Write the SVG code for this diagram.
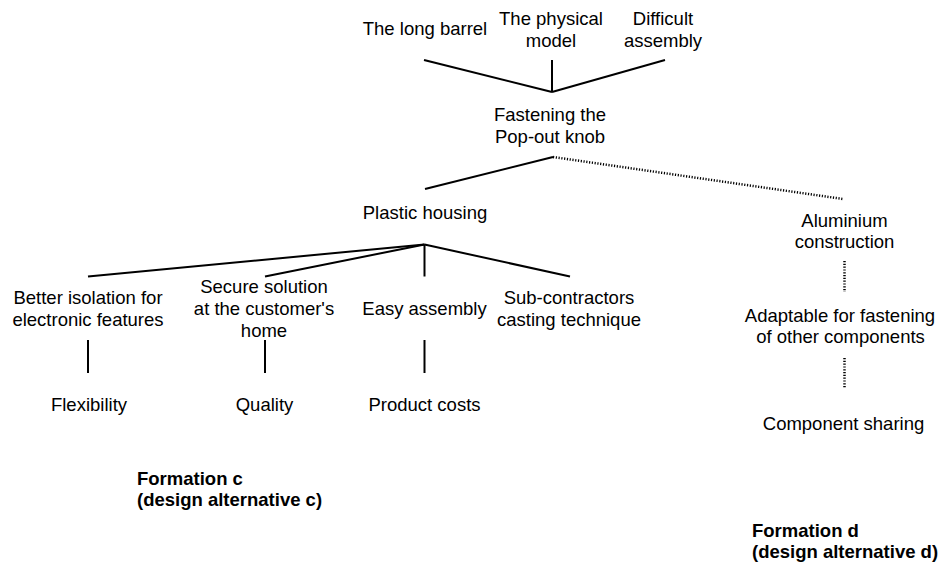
<svg xmlns="http://www.w3.org/2000/svg" width="941" height="565" viewBox="0 0 941 565">
  <style>
    text { font-family: "Liberation Sans", Arial, sans-serif; font-size: 18.5px; fill: #000; text-anchor: middle; }
    .caption { font-weight: bold; text-anchor: start; }
    .solid { stroke: #000; stroke-width: 2; fill: none; }
    .dotted { stroke: #000; stroke-width: 2.5; fill: none; stroke-dasharray: 1.2 1.6; }
  </style>
  <rect width="941" height="565" fill="#fff"/>

  <g id="connectors">
    <!-- causes into the main problem -->
    <line class="solid" x1="424" y1="60" x2="552" y2="92"/>
    <line class="solid" x1="552" y1="60" x2="552" y2="92"/>
    <line class="solid" x1="665" y1="60" x2="552" y2="92"/>
    <!-- main problem to alternatives -->
    <line class="solid" x1="553" y1="157" x2="425" y2="189"/>
    <line class="dotted" x1="553" y1="157" x2="843" y2="199"/>
    <!-- plastic housing fan -->
    <line class="solid" x1="424.5" y1="244.5" x2="88" y2="276.5"/>
    <line class="solid" x1="424.5" y1="244.5" x2="265" y2="276.5"/>
    <line class="solid" x1="424.5" y1="244.5" x2="424.5" y2="276.5"/>
    <line class="solid" x1="424.5" y1="244.5" x2="570" y2="276.5"/>
    <!-- properties to values -->
    <line class="solid" x1="88" y1="340" x2="88" y2="373"/>
    <line class="solid" x1="265" y1="340" x2="265" y2="373"/>
    <line class="solid" x1="424.5" y1="340" x2="424.5" y2="373"/>
    <!-- aluminium chain -->
    <line class="dotted" x1="844.5" y1="261" x2="844.5" y2="292"/>
    <line class="dotted" x1="844.5" y1="358" x2="844.5" y2="388"/>
  </g>

  <g id="long-barrel"><text x="425" y="35">The long barrel</text></g>
  <g id="physical-model">
    <text x="551" y="25">The physical</text>
    <text x="551" y="47">model</text>
  </g>
  <g id="difficult-assembly">
    <text x="663" y="25">Difficult</text>
    <text x="663" y="47">assembly</text>
  </g>
  <g id="fastening">
    <text x="550" y="121">Fastening the</text>
    <text x="550" y="143">Pop-out knob</text>
  </g>
  <g id="plastic-housing"><text x="425" y="219">Plastic housing</text></g>
  <g id="aluminium">
    <text x="844.5" y="227">Aluminium</text>
    <text x="844.5" y="248">construction</text>
  </g>
  <g id="isolation">
    <text x="88" y="304">Better isolation for</text>
    <text x="88" y="326">electronic features</text>
  </g>
  <g id="secure">
    <text x="264" y="293">Secure solution</text>
    <text x="264" y="315">at the customer's</text>
    <text x="264" y="337">home</text>
  </g>
  <g id="easy-assembly"><text x="424.5" y="315">Easy assembly</text></g>
  <g id="sub-contractors">
    <text x="569" y="304">Sub-contractors</text>
    <text x="569" y="326">casting technique</text>
  </g>
  <g id="adaptable">
    <text x="840" y="322">Adaptable for fastening</text>
    <text x="840.5" y="343">of other components</text>
  </g>
  <g id="flexibility"><text x="89" y="411">Flexibility</text></g>
  <g id="quality"><text x="264.5" y="411">Quality</text></g>
  <g id="product-costs"><text x="424.5" y="411">Product costs</text></g>
  <g id="component-sharing"><text x="843.5" y="430">Component sharing</text></g>

  <g id="formation-c">
    <text class="caption" x="137" y="485">Formation c</text>
    <text class="caption" x="137" y="506">(design alternative c)</text>
  </g>
  <g id="formation-d">
    <text class="caption" x="752" y="537">Formation d</text>
    <text class="caption" x="752" y="558">(design alternative d)</text>
  </g>
</svg>
